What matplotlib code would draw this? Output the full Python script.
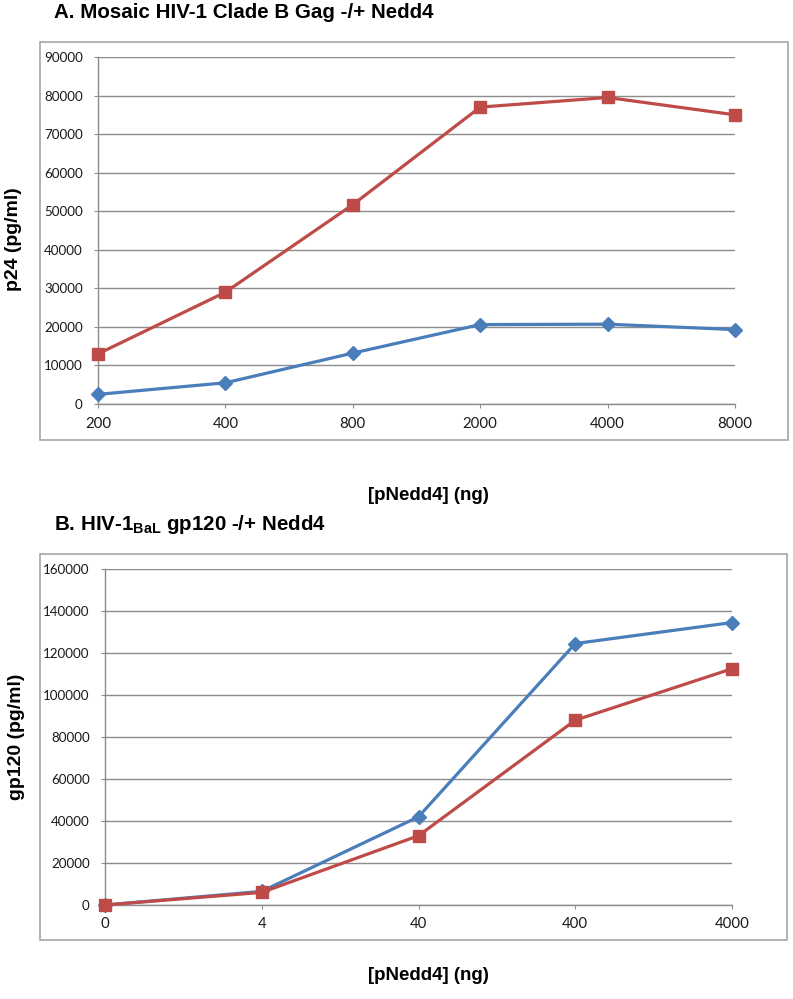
import matplotlib
matplotlib.use('Agg')
import matplotlib.pyplot as plt
from matplotlib.patches import Rectangle
import numpy as np

plt.rcParams['font.family'] = ['Liberation Sans', 'DejaVu Sans']
plt.rcParams['mathtext.fontset'] = 'custom'
plt.rcParams['mathtext.rm'] = 'Liberation Sans:bold'
plt.rcParams['mathtext.bf'] = 'Liberation Sans:bold'

# panel A data
cats_a = ['200', '400', '800', '2000', '4000', '8000']
minus_a = [2500, 5500, 13200, 20600, 20700, 19300]
plus_a = [13000, 29000, 51700, 77000, 79500, 75000]

# panel B data
cats_b = ['0', '4', '40', '400', '4000']
minus_b = [0, 6500, 42000, 124500, 134500]
plus_b = [0, 6000, 33000, 88000, 112500]

W, H = 793, 999
blue = '#4a7ebb'
red = '#be4b48'
grid_c = '#8c8c8c'
tick_font = ['Lato', 'DejaVu Sans']


def px(x0, y0, x1, y1):
    # pixel box -> figure fraction [left, bottom, width, height]
    return [x0 / W, 1 - y1 / H, (x1 - x0) / W, (y1 - y0) / H]


def draw_panel(fig, rect, cats, s_minus, s_plus, ymax, ystep):
    ax = fig.add_axes(rect)
    x = np.arange(len(cats))
    ax.plot(x, s_minus, color=blue, lw=2.3, marker='D', ms=7,
            markeredgecolor=blue, zorder=3, clip_on=False)
    ax.plot(x, s_plus, color=red, lw=2.3, marker='s', ms=8,
            markeredgecolor=red, zorder=3, clip_on=False)
    ax.set_xlim(0, len(cats) - 1)
    ax.set_ylim(0, ymax)
    ax.set_xticks(x)
    ax.set_xticklabels(cats, fontsize=10.8, family=tick_font)
    yt = np.arange(0, ymax + 1, ystep)
    ax.set_yticks(yt)
    ax.set_yticklabels([str(int(v)) for v in yt], fontsize=9.6, family=tick_font)
    ax.yaxis.grid(True, color=grid_c, lw=1.0)
    ax.set_axisbelow(True)
    for s in ['top', 'right']:
        ax.spines[s].set_visible(False)
    for s in ['left', 'bottom']:
        ax.spines[s].set_color(grid_c)
        ax.spines[s].set_linewidth(1.0)
    ax.tick_params(axis='y', length=3, color=grid_c, pad=8, labelcolor='#1a1a1a')
    ax.tick_params(axis='x', length=3, color=grid_c, pad=6, labelcolor='#1a1a1a')
    return ax


fig = plt.figure(figsize=(W / 100, H / 100), dpi=100)

# grey frames around each chart
fig.patches.append(Rectangle((40 / W, 1 - 440 / H), 748 / W, 398 / H,
                             transform=fig.transFigure, fill=False,
                             edgecolor='#a6a6a6', lw=1.2))
fig.patches.append(Rectangle((40 / W, 1 - 940 / H), 747 / W, 386 / H,
                             transform=fig.transFigure, fill=False,
                             edgecolor='#a6a6a6', lw=1.2))

draw_panel(fig, px(98, 57, 735, 404), cats_a, minus_a, plus_a, 90000, 10000)
draw_panel(fig, px(105, 569, 732, 905), cats_b, minus_b, plus_b, 160000, 20000)

# titles and axis labels
fig.text(54 / W, 1 - 18 / H, 'A. Mosaic HIV-1 Clade B Gag -/+ Nedd4',
         fontsize=14.8, fontweight='bold', va='baseline', ha='left')
fig.text(54 / W, 1 - 530 / H, r'B. HIV-1$_{\mathrm{BaL}}$ gp120 -/+ Nedd4',
         fontsize=14.8, fontweight='bold', va='baseline', ha='left')
fig.text(14 / W, 1 - 239 / H, 'p24 (pg/ml)', rotation=90, fontsize=14,
         fontweight='bold', ha='center', va='center')
fig.text(17 / W, 1 - 737 / H, 'gp120 (pg/ml)', rotation=90, fontsize=14,
         fontweight='bold', ha='center', va='center')
fig.text(428 / W, 1 - 495 / H, '[pNedd4] (ng)', fontsize=13.5,
         fontweight='bold', ha='center', va='center')
fig.text(428 / W, 1 - 975 / H, '[pNedd4] (ng)', fontsize=13.5,
         fontweight='bold', ha='center', va='center')

fig.savefig('out.png', dpi=100)
